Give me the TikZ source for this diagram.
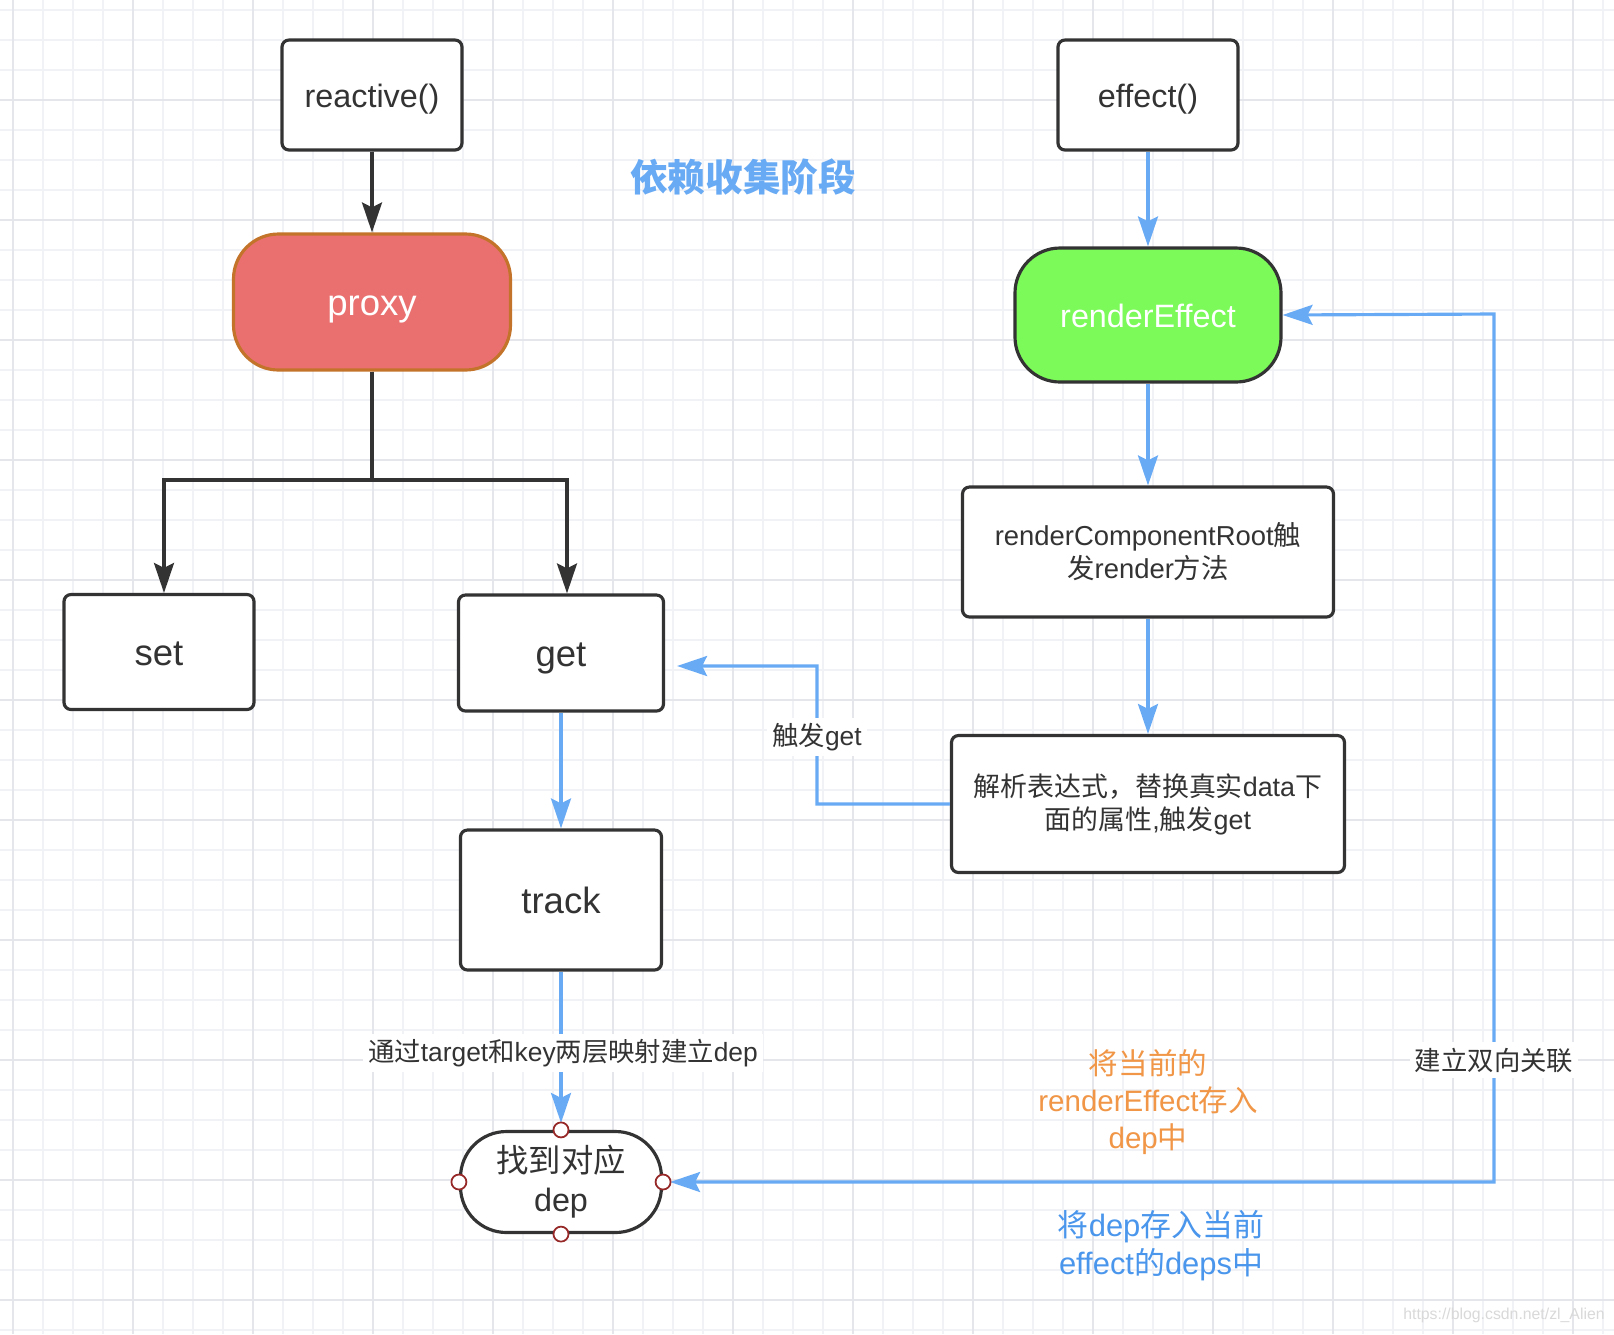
\documentclass[tikz,border=0pt]{standalone}
\usepackage{fontspec}
\setmainfont{Liberation Sans}
\newfontfamily\zhfont{Noto Sans CJK SC}
\newcommand{\zh}[1]{{\zhfont #1}}
\usetikzlibrary{arrows.meta}

\definecolor{lineblue}{RGB}{104,170,244}
\definecolor{textblue}{RGB}{74,150,236}
\definecolor{textorange}{RGB}{240,150,70}
\definecolor{boxgray}{RGB}{51,51,51}
\definecolor{proxyred}{RGB}{234,112,112}
\definecolor{proxyedge}{RGB}{196,116,42}
\definecolor{effectgreen}{RGB}{124,250,90}
\definecolor{gridlight}{RGB}{241,242,246}
\definecolor{griddark}{RGB}{228,230,235}
\definecolor{pinred}{RGB}{150,40,40}

\tikzset{
  box/.style={draw=boxgray, line width=0.9pt, fill=white, rounded corners=0.7mm,
    align=center, text=boxgray, font=\fontsize{9.2}{11}\selectfont},
  oneline/.style={text height=8pt, text depth=1.1pt},
  bigbox/.style={box, font=\fontsize{10.4}{12}\selectfont, text height=8.5pt, text depth=0.6pt},
  pill/.style={box, rounded corners=4.5mm},
  pin/.style={draw=pinred, line width=0.5pt, fill=white},
  tip/.style={-{Stealth[length=3mm,width=2mm,inset=0.5mm]}},
  blackflow/.style={tip, draw=boxgray, line width=0.9pt},
  blueflow/.style={tip, draw=lineblue, line width=0.9pt},
  edgelabel/.style={fill=white, inner sep=1.5pt, text=boxgray,
    font=\fontsize{7.5}{9}\selectfont},
}

\begin{document}
\begin{tikzpicture}[x=0.1mm, y=-0.1mm]
    \useasboundingbox (0,0) rectangle (1614,1334);
    \fill[white] (0,0) rectangle (1614,1334);

    % background grid
    \foreach \gx in {13,43,...,1613}
        \draw[gridlight, line width=0.5pt] (\gx,0) -- (\gx,1334);
    \foreach \gy in {10,40,...,1333}
        \draw[gridlight, line width=0.5pt] (0,\gy) -- (1614,\gy);
    \foreach \gx in {13,133,...,1613}
        \draw[griddark, line width=0.6pt] (\gx,0) -- (\gx,1334);
    \foreach \gy in {100,220,...,1333}
        \draw[griddark, line width=0.6pt] (0,\gy) -- (1614,\gy);

    % left column
    \node[box, oneline, minimum width=18mm, minimum height=11mm] (reactive) at (372,95) {reactive()};
    \node[pill, draw=proxyedge, fill=proxyred, text=white, font=\fontsize{10.4}{12}\selectfont,
          text height=8.3pt, text depth=0.8pt,
          minimum width=27.7mm, minimum height=13.6mm] (proxy) at (372,302) {proxy};
    \node[bigbox, minimum width=19mm, minimum height=11.5mm] (set) at (159,652) {set};
    \node[bigbox, minimum width=20.5mm, minimum height=11.6mm] (get) at (561,653) {get};
    \node[bigbox, minimum width=20.1mm, minimum height=14mm] (track) at (561,900) {track};
    \node[pill, rounded corners=4.6mm, minimum width=20.1mm, minimum height=10.1mm,
          font=\fontsize{9.2}{11.1}\selectfont] (dep) at (561,1182) {\zh{找到对应}\\dep};

    % right column
    \node[box, oneline, minimum width=18mm, minimum height=11mm] (effect) at (1148,95) {effect()};
    \node[pill, oneline, fill=effectgreen, text=white, minimum width=26.6mm, minimum height=13.4mm]
          (renderEffect) at (1148,315) {renderEffect};
    \node[box, minimum width=37.1mm, minimum height=13mm, font=\fontsize{7.8}{9.4}\selectfont]
          (rootrender) at (1148,552) {renderComponentRoot\zh{触}\\\zh{发}render\zh{方法}};
    \node[box, minimum width=39.3mm, minimum height=13.7mm, font=\fontsize{7.65}{9.4}\selectfont]
          (parse) at (1148,804) {\zh{解析表达式，替换真实}data\zh{下}\\\zh{面的属性},\zh{触发}get};

    \node[text=lineblue, font=\zhfont\bfseries\fontsize{10.7}{13}\selectfont] (title) at (743,177) {依赖收集阶段};

    % connectors
    \coordinate (fork) at (372,480);
    \draw[blackflow] (reactive) -- (proxy);
    \draw[blackflow] (proxy.south) -- (fork) -| ([xshift=0.5mm]set.north);
    \draw[blackflow] (fork) -| ([xshift=0.6mm]get.north);

    \draw[blueflow] (effect) -- (renderEffect);
    \draw[blueflow] (renderEffect) -- (rootrender);
    \draw[blueflow] (rootrender) -- (parse);

    \coordinate (getturn) at (817,666);
    \draw[blueflow, shorten >=1.2mm] (parse.west) -| (getturn) -- ([yshift=-1.3mm]get.east);
    \node[edgelabel] (getlabel) at (817,737) {\zh{触发}get};

    \draw[blueflow] (get) -- (track);
    \draw[blueflow, shorten >=0.7mm] (track) -- (dep);
    \node[edgelabel] (maplabel) at (563,1053) {\zh{通过}target\zh{和}key\zh{两层映射建立}dep};

    \coordinate (backturn) at (1494,314);
    \draw[blueflow, {Stealth[length=3mm,width=2mm,inset=0.5mm]}-{Stealth[length=3mm,width=2mm,inset=0.5mm]}, shorten <=0.7mm]
          (dep.east) -| (backturn) -- (renderEffect.east);
    \node[edgelabel] (bindlabel) at (1494,1060) {\zh{建立双向关联}};

    % pins on the dep node
    \foreach \side in {north,south,east,west}
        \draw[pin] (dep.\side) circle (0.75mm);

    \node[text=textorange, align=center, font=\fontsize{8.4}{10.5}\selectfont] (storenote) at (1148,1102)
          {\zh{将当前的}\\renderEffect\zh{存入}\\dep\zh{中}};
    \node[text=textblue, align=center, font=\fontsize{8.8}{10.8}\selectfont] (depsnote) at (1161,1246)
          {\zh{将}dep\zh{存入当前}\\effect\zh{的}deps\zh{中}};

    \node[text=gray!30, font=\fontsize{4.5}{5}\selectfont] (watermark) at (1504,1315) {https://blog.csdn.net/zl\_Alien};
\end{tikzpicture}
\end{document}
